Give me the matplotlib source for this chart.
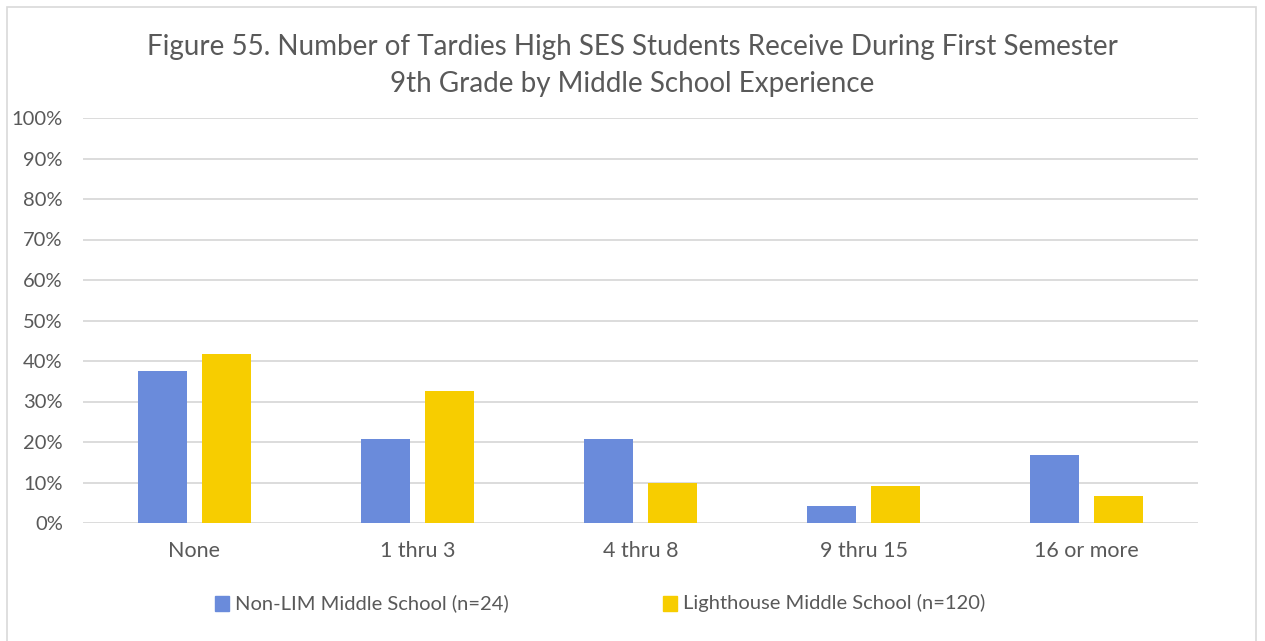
import numpy as np
import matplotlib.pyplot as plt
from matplotlib.patches import Rectangle
from matplotlib.ticker import PercentFormatter

categories = ["None", "1 thru 3", "4 thru 8", "9 thru 15", "16 or more"]
non_lim = [37.5, 20.8, 20.8, 4.2, 16.7]
lighthouse = [41.7, 32.5, 10.0, 9.2, 6.7]
series_names = ["Non-LIM Middle School (n=24)", "Lighthouse Middle School (n=120)"]

blue = "#6a8bdb"
gold = "#f7cd00"
text_col = "#595959"
grid_col = "#d9d9d9"

plt.rcParams["font.family"] = ["Lato", "DejaVu Sans"]

W, H = 1265, 641
fig = plt.figure(figsize=(W / 100, H / 100), dpi=100)
fig.patch.set_facecolor("white")

# chart frame
fig.patches.append(Rectangle((7 / W, -0.01), (1256 - 7) / W, 1 - 7 / H + 0.01,
                             transform=fig.transFigure, fill=False,
                             edgecolor="#d9d9d9", linewidth=1.2))

ax = fig.add_axes([83 / W, 1 - 523 / H, (1198 - 83) / W, (523 - 118) / H])
x = np.arange(len(categories))
w = 0.224
gap = 0.063
ax.bar(x - (w + gap) / 2, non_lim, w, color=blue, zorder=3)
ax.bar(x + (w + gap) / 2, lighthouse, w, color=gold, zorder=3)

ax.set_xlim(-0.5, len(categories) - 0.5)
ax.set_ylim(0, 100)
ax.set_yticks(np.arange(0, 101, 10))
ax.yaxis.set_major_formatter(PercentFormatter(decimals=0))
ax.set_xticks(x)
ax.set_xticklabels(categories, fontsize=15.5)
ax.grid(axis="y", color=grid_col, linewidth=1.3, zorder=0)
for s in ax.spines.values():
    s.set_visible(False)
ax.tick_params(length=0, labelcolor=text_col)
ax.tick_params(axis="y", pad=14.5, labelsize=14.5)
ax.tick_params(axis="x", pad=13)
for lbl in ax.get_yticklabels():
    lbl.set_horizontalalignment("right")

fig.text(0.5, 1 - 47 / H, "Figure 55. Number of Tardies High SES Students Receive During First Semester",
         ha="center", va="center", fontsize=20, color=text_col)
fig.text(0.5, 1 - 84 / H, "9th Grade by Middle School Experience",
         ha="center", va="center", fontsize=20, color=text_col)

# legend
for sx, col, name in [(215, blue, series_names[0]), (663, gold, series_names[1])]:
    fig.patches.append(Rectangle((sx / W, 1 - 611 / H), 14 / W, 15 / H,
                                 transform=fig.transFigure, color=col))
    fig.text((sx + 20) / W, 1 - 603 / H, name, ha="left", va="center",
             fontsize=14.5, color=text_col)

fig.savefig("out.png", dpi=100)
